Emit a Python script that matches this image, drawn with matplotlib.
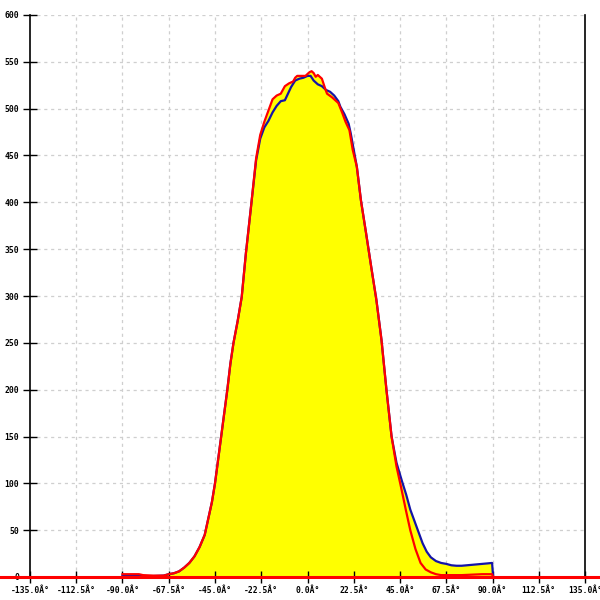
import matplotlib
matplotlib.use("Agg")
import matplotlib.pyplot as plt
from matplotlib.lines import Line2D

# ---- data ----
blue_angle = [-90, -85, -80, -75, -70, -67.5, -65, -62.5, -60, -57.5, -55, -52.5, -50, -48.5,
              -46.5, -45, -43.5, -42, -40.5, -39, -37.5, -36, -34, -32, -30, -27.5, -25, -23,
              -21, -19, -17, -15, -13, -11, -9.5, -8, -6, -4, -2, 0, 1.5, 3, 5, 7, 9, 11, 13,
              15, 16, 18, 20, 21, 22.5, 24, 26, 28.5, 31, 33.5, 36, 38.4, 40.9, 43.3, 46, 48,
              50, 52, 54, 56, 58, 60, 62.5, 65, 67.5, 70, 72.5, 75, 77.5, 80, 82.5, 85, 87.5,
              89.8, 90.3]
blue_value = [1.5, 1.5, 1, 1, 1.5, 3, 4, 6, 10, 15, 22, 32, 45, 60,
              80, 100, 125, 150, 175, 200, 228, 250, 273, 299, 345, 395, 445, 468,
              480, 487, 496, 503, 508, 509, 516, 523, 530, 532, 533, 535, 535, 530, 526, 524, 520, 518, 514,
              508, 502, 494, 484, 474, 456, 438, 402, 367, 331, 296, 253, 200, 150, 122, 102, 88,
              72, 60, 48, 36, 27, 21, 17, 15, 14, 12.5, 12, 12, 12.5, 13, 13.5, 14, 14.5,
              15, 0]

red_angle = [-90, -85, -82, -80, -75, -70, -67.5, -65, -62.5, -60, -57.5, -55, -52.5, -50, -48.5,
             -46.5, -45, -43.5, -42, -40.5, -39, -37.5, -36, -34, -32, -30, -27.5, -25, -23,
             -21, -19, -17, -15, -13, -11, -9, -7, -6, -5, -3, -1, 0, 1, 2, 3, 4, 5, 7, 8.5,
             9.5, 12, 15, 17, 18.5, 20.4, 22, 24, 26, 28.5, 31, 33.5, 36, 38.4, 40.9, 43.3,
             45.5, 47.8, 50, 52.5, 55, 57.5, 60, 62.5, 65, 70, 75, 80, 85, 89.8, 90.3]
red_value = [3, 3, 3, 2, 1.5, 1.5, 3, 4, 6, 10, 15, 22, 32, 45, 60,
             80, 100, 125, 150, 175, 200, 228, 250, 273, 299, 345, 395, 447, 472,
             486, 498, 510, 514, 516, 524, 527, 529, 533, 535, 535, 535, 537, 539, 540, 538, 534, 536, 532, 522,
             516, 512, 506, 495, 486, 477, 456, 438, 402, 367, 331, 296, 253, 200, 150, 118,
             96, 72, 50, 30, 15, 8, 5, 3, 2, 2, 2, 2.5, 3, 3, 0]

x_ticks = [-135, -112.5, -90, -67.5, -45, -22.5, 0, 22.5, 45, 67.5, 90, 112.5, 135]
x_tick_labels = ["-135.0Â°", "-112.5Â°", "-90.0Â°", "-67.5Â°", "-45.0Â°", "-22.5Â°", "0.0Â°",
                 "22.5Â°", "45.0Â°", "67.5Â°", "90.0Â°", "112.5Â°", "135.0Â°"]
y_ticks = [0, 50, 100, 150, 200, 250, 300, 350, 400, 450, 500, 550, 600]
y_tick_labels = [str(v) for v in y_ticks]

# ---- figure ----
fig = plt.figure(figsize=(6, 6), dpi=100)
ax = fig.add_axes([30 / 600, 23 / 600, 555 / 600, 562 / 600])
ax.set_xlim(-135, 135)
ax.set_ylim(0, 600)

yellow = "#ffff00"
ax.fill_between(blue_angle, blue_value, 0, color=yellow, lw=0, zorder=1)
ax.fill_between(red_angle, red_value, 0, color=yellow, lw=0, zorder=1)

ax.plot(blue_angle, blue_value, color="#1414a8", lw=1.6, zorder=3, solid_joinstyle="round")
ax.plot(red_angle, red_value, color="#ff0000", lw=1.6, zorder=4, solid_joinstyle="round")

# grid
gcol = "#cfcfcf"
for xv in x_ticks[1:-1]:
    ax.axvline(xv, color=gcol, lw=0.9, ls=(0, (2.5, 3)), zorder=0)
for yv in y_ticks[1:]:
    ax.axhline(yv, color=gcol, lw=0.9, ls=(0, (2.5, 3)), zorder=0)

# spines
for s in ["top", "bottom"]:
    ax.spines[s].set_visible(False)
ax.spines["left"].set_color("black")
ax.spines["right"].set_color("black")
ax.spines["left"].set_linewidth(1.2)
ax.spines["right"].set_linewidth(1.2)

# red baseline across full width
ybase = 23 / 600
fig.add_artist(Line2D([0, 1], [ybase, ybase], color="#ff0000", lw=2.2, zorder=10))

mono = "DejaVu Sans Mono"
ax.set_xticks(x_ticks)
ax.set_xticklabels(x_tick_labels, fontfamily=mono, fontsize=5.8, fontweight="bold")
ax.set_yticks(y_ticks)
ax.set_yticklabels(y_tick_labels, fontfamily=mono, fontsize=5.8, fontweight="bold")
ax.tick_params(axis="x", direction="inout", length=9, width=1, color="black", pad=2)
ax.tick_params(axis="y", direction="inout", length=10, width=1, color="black", pad=3,
               right=False)

fig.savefig("out.png", dpi=100)
